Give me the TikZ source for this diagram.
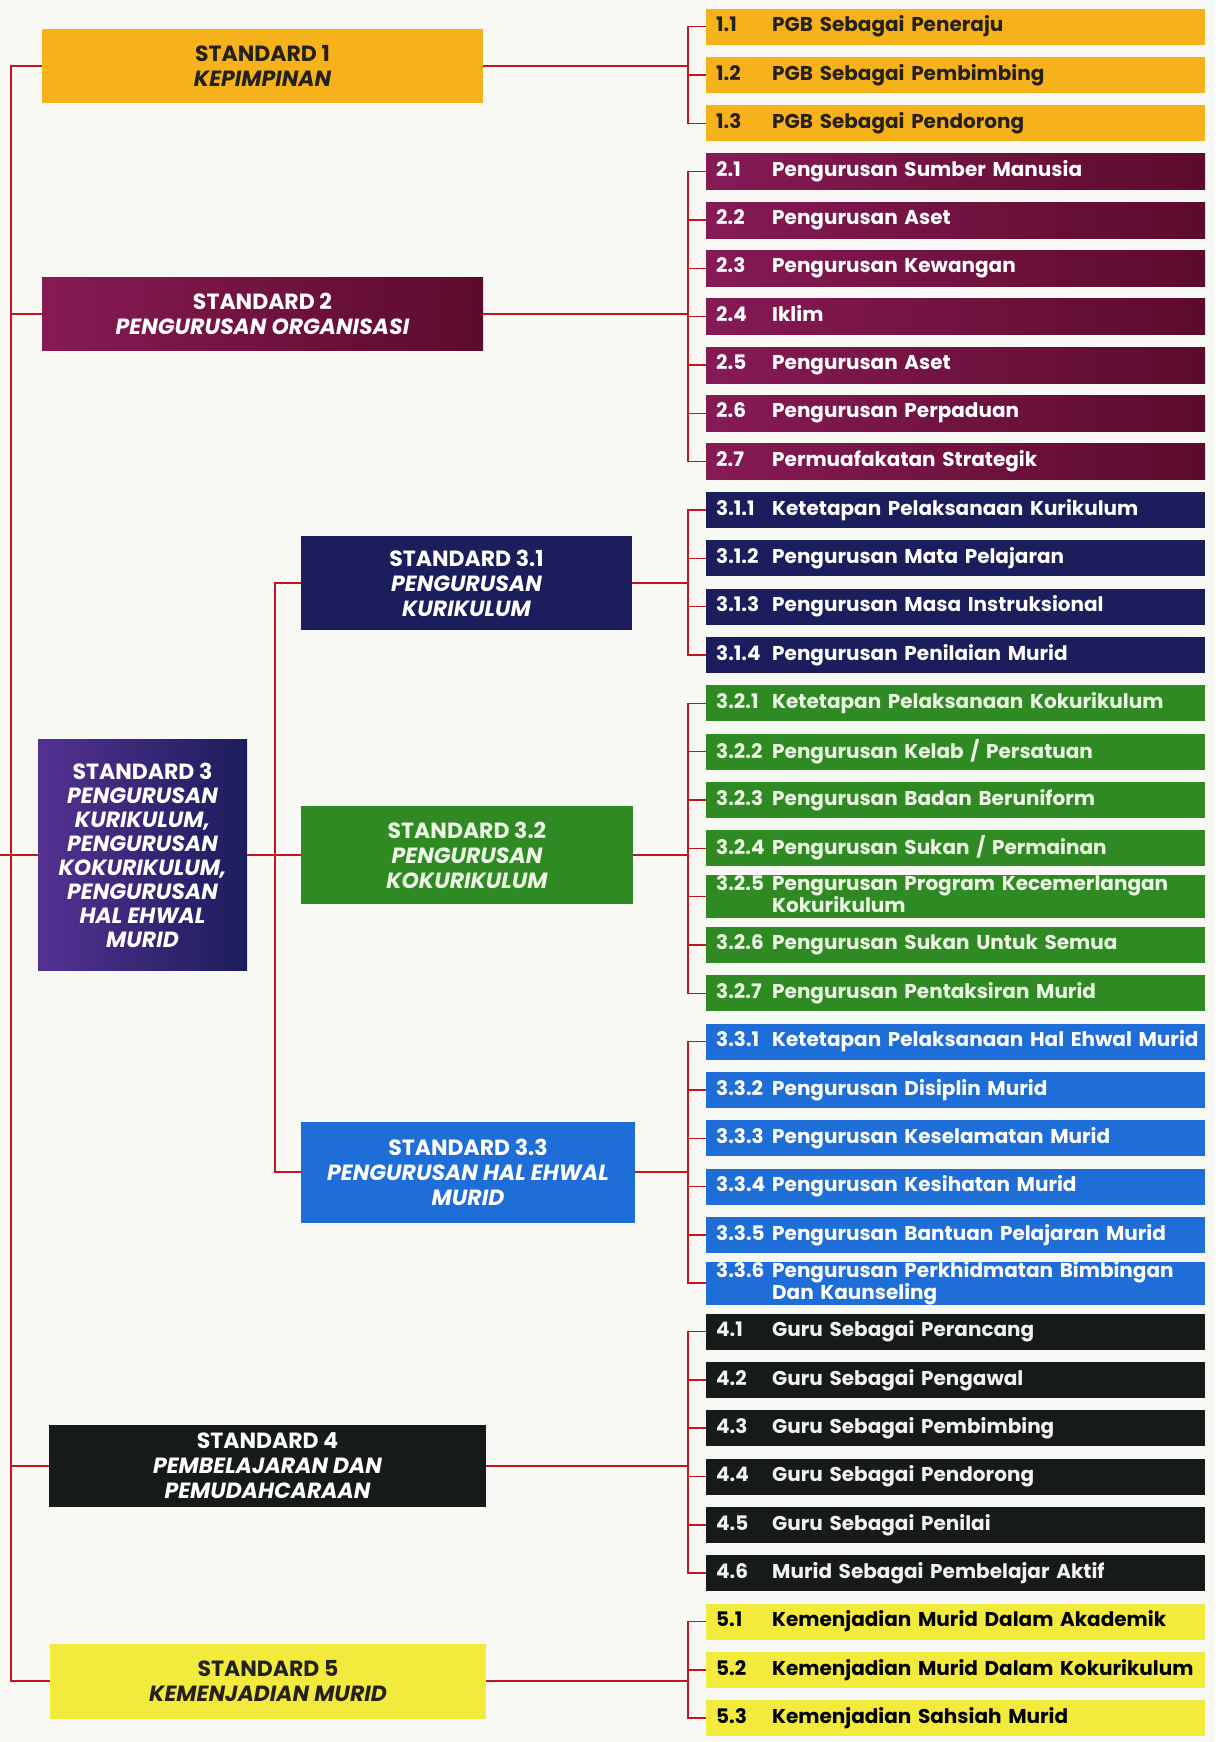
\documentclass[tikz,border=0pt]{standalone}
\usepackage{fontspec}
\setmainfont{Poppins}
\usetikzlibrary{positioning}

\definecolor{paper}{HTML}{F8F8F5}
\definecolor{linkred}{HTML}{C0161F}
\definecolor{stdorange}{HTML}{F6B21B}
\definecolor{stdmaroon}{HTML}{861A55}
\definecolor{stdmaroondk}{HTML}{5C0B2C}
\definecolor{stdpurple}{HTML}{553192}
\definecolor{stdnavy}{HTML}{1B1D5C}
\definecolor{stdgreen}{HTML}{2F8A24}
\definecolor{stdblue}{HTML}{1F6ED8}
\definecolor{stdblack}{HTML}{161A18}
\definecolor{stdyellow}{HTML}{F2EA3C}
\definecolor{inkdark}{HTML}{252018}
\definecolor{inkgreen}{HTML}{EEF7E6}

\newcommand{\itemrow}[2]{\begin{tabular}{@{}p{56pt}@{}l@{}}#1 & #2\end{tabular}}

\tikzset{
  stdbox/.style={align=center, inner sep=0pt, font=\fontsize{22}{25}\selectfont\bfseries\itshape},
  itembox/.style={anchor=west, text width=479pt, inner xsep=10pt, inner ysep=0pt,
    minimum height=36pt, align=left, font=\fontsize{20}{19}\selectfont\bfseries},
  oitem/.style={fill=stdorange, text=inkdark},
  mitem/.style={left color=stdmaroon, right color=stdmaroondk, text=white},
  nitem/.style={fill=stdnavy, text=white},
  gitem/.style={fill=stdgreen, text=inkgreen},
  bitem/.style={fill=stdblue, text=white},
  kitem/.style={fill=stdblack, text=white!90!gray},
  yitem/.style={fill=stdyellow, text=black},
  link/.style={draw=linkred, line width=1.6pt},
}

\begin{document}
\begin{tikzpicture}[x=1pt,y=-1pt]
\fill[paper] (0,0) rectangle (1215,1742);
\useasboundingbox (0,0) rectangle (1215,1742);
\coordinate (ex) at (0,0);
\coordinate (lx) at (11,0);
\coordinate (sx) at (275,0);
\coordinate (bx) at (688,0);

% standards
\node[stdbox, minimum width=441pt, minimum height=74pt, fill=stdorange, text=inkdark] (s1) at (262.5,66) {\upshape STANDARD 1\\KEPIMPINAN};
\node[stdbox, minimum width=441pt, minimum height=73pt, left color=stdmaroon, right color=stdmaroondk, text=white] (s2) at (262.5,314) {\upshape STANDARD 2\\PENGURUSAN ORGANISASI};
\node[stdbox, minimum width=209pt, minimum height=231pt, left color=stdpurple, right color=stdnavy, text=white, font=\fontsize{22}{24}\selectfont\bfseries\itshape] (s3) at (142.5,855) {\upshape STANDARD 3\\PENGURUSAN\\KURIKULUM,\\PENGURUSAN\\KOKURIKULUM,\\PENGURUSAN\\HAL EHWAL\\MURID};
\node[stdbox, minimum width=331pt, minimum height=94pt, fill=stdnavy, text=white] (s31) at (466.5,583) {\upshape STANDARD 3.1\\PENGURUSAN\\KURIKULUM};
\node[stdbox, minimum width=332pt, minimum height=98pt, fill=stdgreen, text=inkgreen] (s32) at (467,855) {\upshape STANDARD 3.2\\PENGURUSAN\\KOKURIKULUM};
\node[stdbox, minimum width=334pt, minimum height=101pt, fill=stdblue, text=white] (s33) at (468,1172) {\upshape STANDARD 3.3\\PENGURUSAN HAL EHWAL\\MURID};
\node[stdbox, minimum width=437pt, minimum height=82pt, fill=stdblack, text=white] (s4) at (267.5,1466) {\upshape STANDARD 4\\PEMBELAJARAN DAN\\PEMUDAHCARAAN};
\node[stdbox, minimum width=436pt, minimum height=75pt, fill=stdyellow, text=inkdark] (s5) at (268,1681) {\upshape STANDARD 5\\KEMENJADIAN MURID};

% sub items
\foreach \k/\num/\txt/\sty in {
  0/1.1/PGB Sebagai Peneraju/oitem,
  1/1.2/PGB Sebagai Pembimbing/oitem,
  2/1.3/PGB Sebagai Pendorong/oitem,
  3/2.1/Pengurusan Sumber Manusia/mitem,
  4/2.2/Pengurusan Aset/mitem,
  5/2.3/Pengurusan Kewangan/mitem,
  6/2.4/Iklim/mitem,
  7/2.5/Pengurusan Aset/mitem,
  8/2.6/Pengurusan Perpaduan/mitem,
  9/2.7/Permuafakatan Strategik/mitem,
  10/3.1.1/Ketetapan Pelaksanaan Kurikulum/nitem,
  11/3.1.2/Pengurusan Mata Pelajaran/nitem,
  12/3.1.3/Pengurusan Masa Instruksional/nitem,
  13/3.1.4/Pengurusan Penilaian Murid/nitem,
  14/3.2.1/Ketetapan Pelaksanaan Kokurikulum/gitem,
  15/3.2.2/{Pengurusan Kelab / Persatuan}/gitem,
  16/3.2.3/Pengurusan Badan Beruniform/gitem,
  17/3.2.4/{Pengurusan Sukan / Permainan}/gitem,
  18/3.2.5/{Pengurusan Program Kecemerlangan\\ & Kokurikulum}/gitem,
  19/3.2.6/Pengurusan Sukan Untuk Semua/gitem,
  20/3.2.7/Pengurusan Pentaksiran Murid/gitem,
  21/3.3.1/Ketetapan Pelaksanaan Hal Ehwal Murid/bitem,
  22/3.3.2/Pengurusan Disiplin Murid/bitem,
  23/3.3.3/Pengurusan Keselamatan Murid/bitem,
  24/3.3.4/Pengurusan Kesihatan Murid/bitem,
  25/3.3.5/Pengurusan Bantuan Pelajaran Murid/bitem,
  26/3.3.6/{Pengurusan Perkhidmatan Bimbingan\\ & Dan Kaunseling}/bitem,
  27/4.1/Guru Sebagai Perancang/kitem,
  28/4.2/Guru Sebagai Pengawal/kitem,
  29/4.3/Guru Sebagai Pembimbing/kitem,
  30/4.4/Guru Sebagai Pendorong/kitem,
  31/4.5/Guru Sebagai Penilai/kitem,
  32/4.6/Murid Sebagai Pembelajar Aktif/kitem,
  33/5.1/Kemenjadian Murid Dalam Akademik/yitem,
  34/5.2/Kemenjadian Murid Dalam Kokurikulum/yitem,
  35/5.3/Kemenjadian Sahsiah Murid/yitem}
  \node[itembox, \sty] (b\k) at (706,{26.7+48.33*\k}) {\itemrow{\num}{\txt}};

% links
\draw[link] (s1.west) -| (lx |- s5.west) -- (s5.west);
\foreach \p in {s2,s4}
  \draw[link] (lx |- \p.west) -- (\p.west);
\draw[link] (ex |- s3.west) -- (s3.west);
\draw[link] (s3.east) -- (s32.west);
\draw[link] (s31.west) -| (sx |- s33.west) -- (s33.west);
\foreach \p/\a/\b in {s1/0/2, s2/3/9, s31/10/13, s32/14/20, s33/21/26, s4/27/32, s5/33/35}
  \foreach \k in {\a,...,\b}
    \draw[link] (\p.east) -| (bx |- b\k.west) -- (b\k.west);
\end{tikzpicture}
\end{document}
